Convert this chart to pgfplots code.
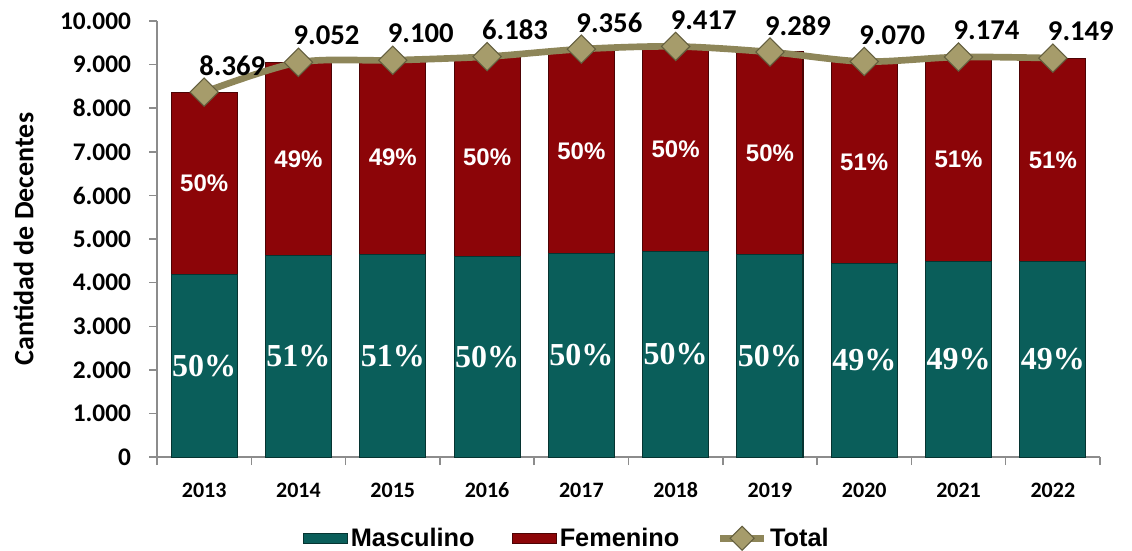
\documentclass[border=0pt]{standalone}
\usepackage{fontspec}
\setmainfont{Carlito}
\newfontfamily\arialf{Liberation Sans}
\newfontfamily\serifb{Liberation Serif}
\usepackage{pgfplots}
\pgfplotsset{compat=1.18}
\usepackage{pgfplotstable}
\pgfkeys{/pgf/number format/assume math mode=true}

\definecolor{teal1}{HTML}{0A5E5A}
\definecolor{red1}{HTML}{8C0508}
\definecolor{olive1}{HTML}{8E8659}
\definecolor{olivemark}{HTML}{A69C6B}
\definecolor{axgray}{HTML}{8C8C8C}

\pgfplotstableread{
x male female total tlab mp fp
0 4185 4184 8369 8369 50 50
1 4617 4435 9052 9052 51 49
2 4641 4459 9100 9100 51 49
3 4592 4591 9183 6183 50 50
4 4678 4678 9356 9356 50 50
5 4709 4708 9417 9417 50 50
6 4645 4644 9289 9289 50 50
7 4444 4626 9070 9070 49 51
8 4495 4679 9174 9174 49 51
9 4483 4666 9149 9149 49 51
}\data

\pgfplotsset{
  common/.style={
    scale only axis, width=707pt, height=327pt,
    xmin=-0.5, xmax=9.5, ymin=0, ymax=10000, clip=false,
  }
}

\begin{document}
\begin{tikzpicture}
\begin{axis}[common,
  ybar stacked, bar width=0.7,
  axis x line*=bottom, axis y line*=left,
  axis line style={axgray, line width=1.1pt},
  tick align=outside,
  xtick={-0.5,0.5,...,9.5}, xticklabels={},
  x tick style={axgray, line width=1.1pt}, major tick length=6pt,
  extra x ticks={0,1,...,9},
  extra x tick labels={2013,2014,2015,2016,2017,2018,2019,2020,2021,2022},
  extra x tick style={major tick length=0pt, tick style={draw=none}},
  xticklabel style={font=\bfseries\fontsize{16.5}{16.5}\selectfont, anchor=base, yshift=-30pt},
  ytick={0,1000,...,10000},
  y tick style={axgray, line width=1.1pt},
  scaled y ticks=false,
  yticklabel style={font=\bfseries\fontsize{19}{19}\selectfont, xshift=-10pt, /pgf/number format/.cd, 1000 sep={.}, assume math mode=true},
  every axis y label/.style={at={(rel axis cs:0,0.5)}, rotate=90, anchor=center, yshift=100pt, font=\bfseries\fontsize{21}{21}\selectfont},
  ylabel={Cantidad de Decentes},
]
\addplot[fill=teal1, draw=teal1!55!black, line width=0.8pt] table[x=x,y=male]{\data};
\addplot[fill=red1, draw=red1!55!black, line width=0.8pt] table[x=x,y=female]{\data};
\end{axis}

\begin{axis}[common, hide axis,
  legend columns=3,
  legend style={at={(0.435,-0.186)}, anchor=center, draw=none, fill=none,
    font=\arialf\bfseries\fontsize{19}{19}\selectfont,
    /tikz/every even column/.append style={column sep=26pt}},
]
\addlegendimage{legend image code/.code={\draw[fill=teal1, draw=teal1!55!black, line width=0.8pt] (0pt,-3.8pt) rectangle (33pt,3.8pt);}}
\addlegendentry{Masculino}
\addlegendimage{legend image code/.code={\draw[fill=red1, draw=red1!55!black, line width=0.8pt] (0pt,-3.8pt) rectangle (33pt,3.8pt);}}
\addlegendentry{Femenino}
\addlegendimage{legend image code/.code={\draw[olive1, line width=5pt] (0pt,0pt) -- (33pt,0pt); \path[fill=olivemark, draw=olive1!70!black, line width=0.8pt] (16.5pt,-9pt) -- (25.5pt,0pt) -- (16.5pt,9pt) -- (7.5pt,0pt) -- cycle;}}
\addlegendentry{Total}

% male percentages
\addplot[draw=none, mark=none, forget plot, point meta=explicit,
  nodes near coords={\pgfmathprintnumber{\pgfplotspointmeta}\%},
  every node near coord/.style={anchor=center, text=white, font=\serifb\bfseries\fontsize{24}{24}\selectfont}]
  table[x=x, y expr=\thisrow{male}/2, meta=mp]{\data};
% female percentages
\addplot[draw=none, mark=none, forget plot, point meta=explicit,
  nodes near coords={\pgfmathprintnumber{\pgfplotspointmeta}\%},
  every node near coord/.style={anchor=center, text=white, font=\arialf\bfseries\fontsize{18}{18}\selectfont}]
  table[x=x, y expr=\thisrow{male}+\thisrow{female}/2, meta=fp]{\data};
% total line
\addplot[olive1, line width=5pt, smooth, forget plot,
  mark=square*, mark size=7.5pt,
  mark options={rotate=45, fill=olivemark, draw=olive1!70!black, line width=0.8pt},
  point meta=explicit,
  nodes near coords={\pgfmathprintnumber[fixed, precision=0, 1000 sep={.}]{\pgfplotspointmeta}},
  every node near coord/.style={anchor=center, xshift=21pt, yshift=20pt, text=black, font=\bfseries\fontsize{21.5}{21.5}\selectfont}]
  table[x=x, y=total, meta=tlab]{\data};
\end{axis}
\pgfresetboundingbox
\path[use as bounding box] ([xshift=-117.75pt, yshift=-69.75pt]current axis.south west) rectangle ([xshift=24pt, yshift=15.75pt]current axis.north east);
\end{tikzpicture}
\end{document}
